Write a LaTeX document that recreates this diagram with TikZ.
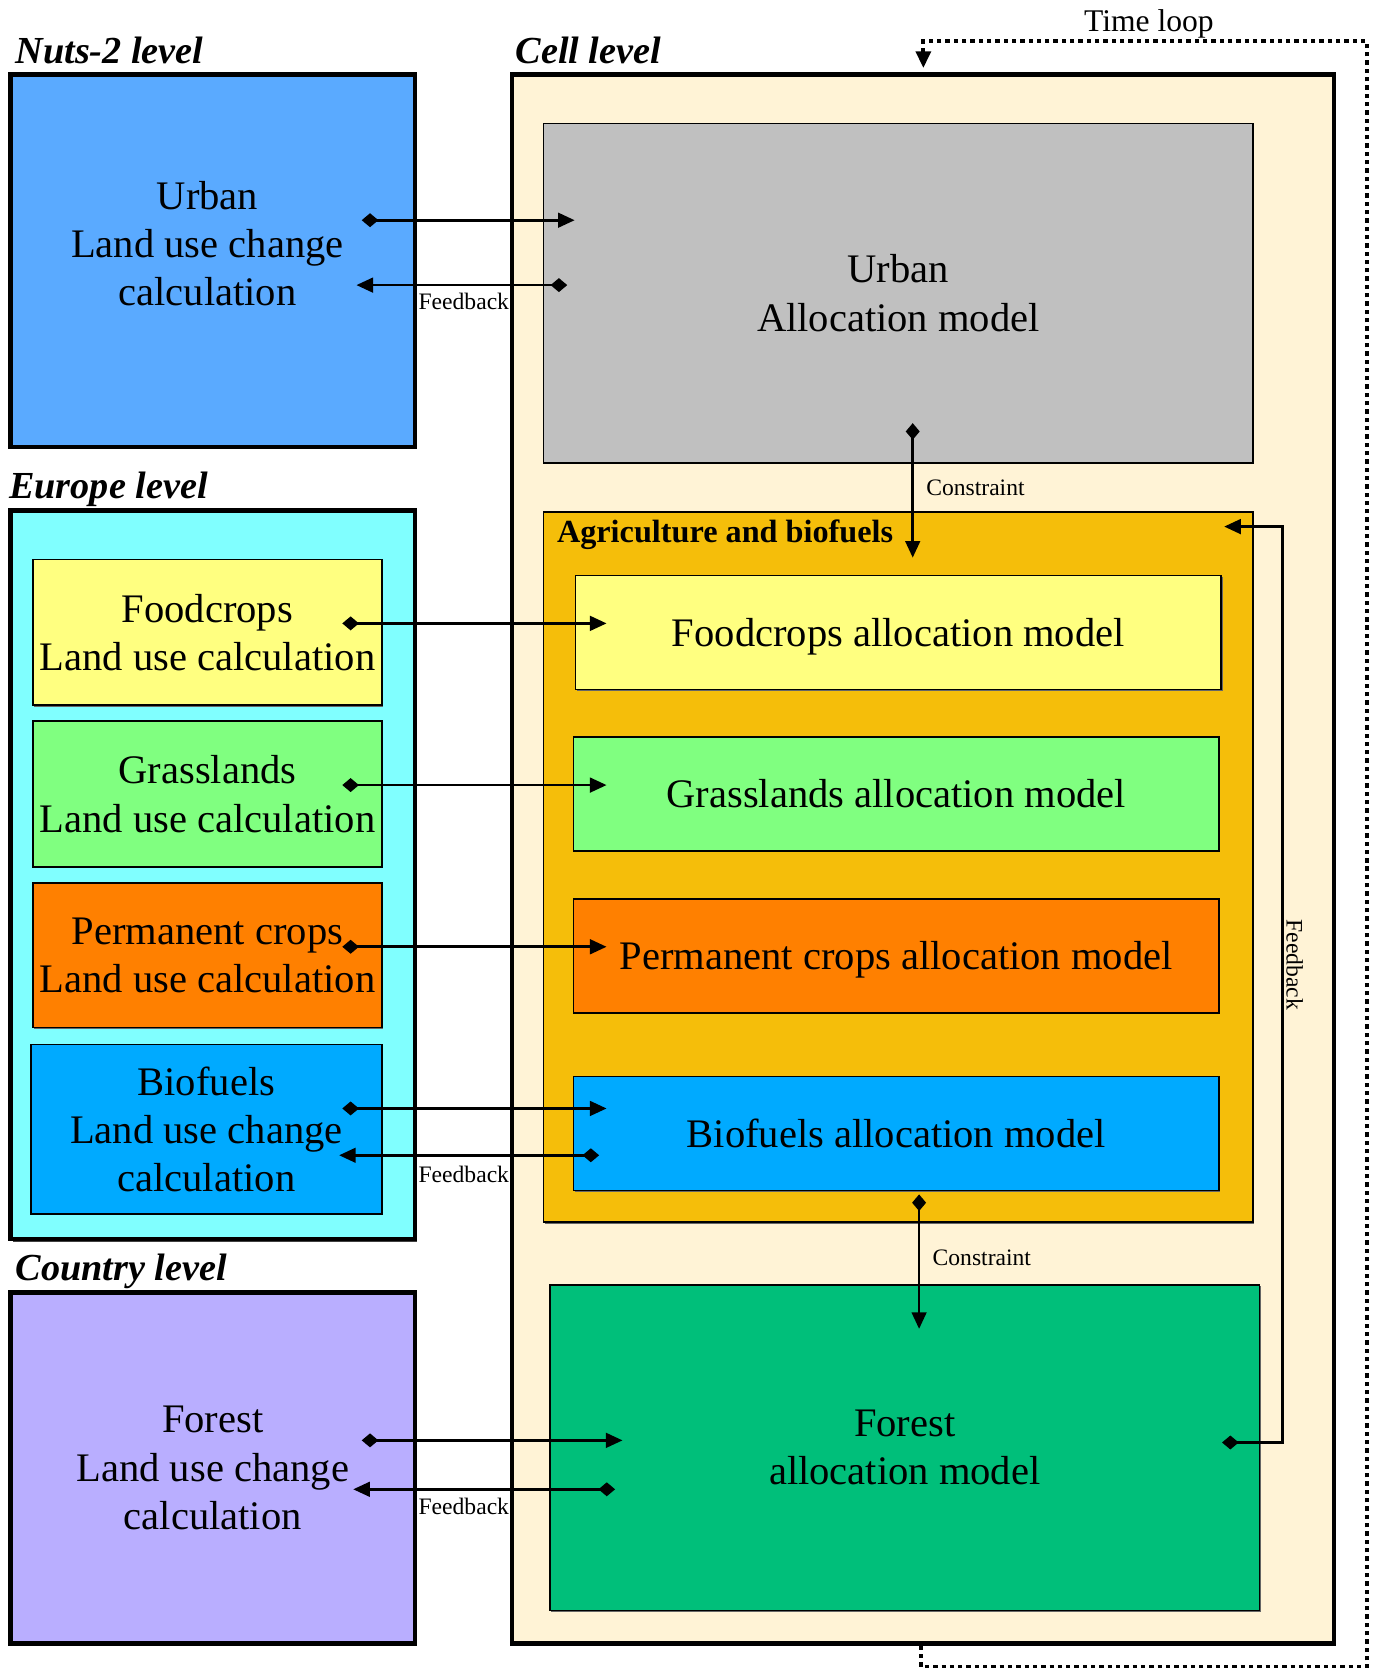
\documentclass[tikz,border=0pt]{standalone}
\usepackage{fontspec}
\setmainfont{Liberation Serif}
\usetikzlibrary{arrows.meta,calc,shadows}

\definecolor{nutsblue}{RGB}{90,170,255}
\definecolor{eurocyan}{RGB}{128,255,255}
\definecolor{countrylav}{RGB}{185,174,255}
\definecolor{cellcream}{RGB}{255,243,214}
\definecolor{urbangray}{RGB}{192,192,192}
\definecolor{agriorange}{RGB}{245,190,10}
\definecolor{foodyellow}{RGB}{255,255,128}
\definecolor{grassgreen}{RGB}{128,255,128}
\definecolor{permorange}{RGB}{255,128,0}
\definecolor{biofblue}{RGB}{0,170,255}
\definecolor{forestgreen}{RGB}{0,191,122}

\tikzset{
  wh/.style 2 args={minimum width=#1*0.32pt, minimum height=#2*0.32pt},
  lvl/.style={
    draw, line width=1.3pt, inner sep=0pt,
    drop shadow={shadow xshift=0.7pt, shadow yshift=-0.7pt, fill=black!75, opacity=1}
  },
  box/.style={
    draw, line width=0.5pt, inner sep=0pt, align=center,
    font=\fontsize{12.2}{14.5}\selectfont,
    drop shadow={shadow xshift=0.4pt, shadow yshift=-0.4pt, fill=black!60, opacity=1}
  },
  txt/.style={align=center, inner sep=0pt, font=\fontsize{12.2}{14.5}\selectfont},
  ttl/.style={anchor=base west, inner sep=0pt, font=\fontsize{11.5}{13}\selectfont\bfseries\itshape},
  lbl/.style={inner sep=1pt, font=\fontsize{7.1}{8}\selectfont},
  arr/.style={{Diamond[length=5pt, width=4.2pt]}-{Triangle[length=5pt, width=4.4pt]}, line width=0.8pt},
  tloop/.style={-{Triangle[length=5pt, width=4.4pt]}, line width=1.2pt, dash pattern=on 1.3pt off 1.2pt}
}

\begin{document}
\begin{tikzpicture}[x=0.32pt, y=-0.32pt]
  \useasboundingbox (0,0) rectangle (1293,1568);

  % --- level frames ----------------------------------------------------
  \node[lvl, fill=nutsblue, wh={380}{350}] (nuts) at (200,245) {};
  \node[lvl, fill=eurocyan, wh={380}{685}] (europe) at (200,822.5) {};
  \node[lvl, txt, fill=countrylav, wh={380}{330}] (country) at (200,1380)
    {Forest\\Land use change\\calculation};
  \node[lvl, fill=cellcream, wh={773}{1475}] (cell) at (867.5,807.5) {};

  \node[ttl] (nutsT) at (14,60) {Nuts-2 level};
  \node[ttl] (europeT) at (8,469) {Europe level};
  \node[ttl] (countryT) at (14,1204) {Country level};
  \node[ttl] (cellT) at (484,60) {Cell level};

  \node[txt] (nutsTxt) at (195,229) {Urban\\Land use change\\calculation};

  % --- europe level calculations ---------------------------------------
  \node[box, fill=foodyellow, wh={328}{137}] (foodL) at (195,594.5) {Foodcrops\\Land use calculation};
  \node[box, fill=grassgreen, wh={328}{137}] (grassL) at (195,746.5) {Grasslands\\Land use calculation};
  \node[box, fill=permorange, wh={328}{136}] (permL) at (195,898) {Permanent crops\\Land use calculation};
  \node[box, fill=biofblue, wh={330}{159}] (bioL) at (194,1061.5) {Biofuels\\Land use change\\calculation};

  % --- cell level allocation models ------------------------------------
  \node[box, fill=urbangray, wh={667}{319}] (urbanA) at (844.5,275.5) {Urban\\Allocation model};
  \node[box, fill=agriorange, wh={667}{668}] (agri) at (844.5,815) {};
  \node[anchor=base west, inner sep=0pt, font=\fontsize{9.7}{11}\selectfont\bfseries]
    (agriT) at (523,510) {Agriculture and biofuels};
  \node[box, fill=foodyellow, wh={607}{107}, text depth=0pt] (foodA) at (844.5,594.5) {Foodcrops allocation model};
  \node[box, fill=grassgreen, wh={607}{107}] (grassA) at (842.5,746.5) {Grasslands allocation model};
  \node[box, fill=permorange, wh={607}{107}, text depth=0pt] (permA) at (842.5,898.5) {Permanent crops allocation model};
  \node[box, fill=biofblue, wh={607}{107}] (bioA) at (842.5,1065.5) {Biofuels allocation model};
  \node[box, fill=forestgreen, wh={667}{306}] (forestA) at (850.5,1361) {Forest\\allocation model};

  % --- demand and feedback arrows --------------------------------------
  \draw[arr] ($(nuts.east)+(-52,-38)$) -- ($(urbanA.west)+(30,-68.5)$);
  \draw[arr] ($(urbanA.west)+(23,-7.5)$) -- ($(nuts.east)+(-57,23)$);
  \draw[arr] ($(foodL.east)+(-38,-8.5)$) -- ($(foodA.west)+(30,-8.5)$);
  \draw[arr] ($(grassL.east)+(-38,-8.5)$) -- ($(grassA.west)+(32,-8.5)$);
  \draw[arr] ($(permL.east)+(-38,-8)$) -- ($(permA.west)+(32,-8.5)$);
  \draw[arr] ($(bioL.east)+(-38,-19.5)$) -- ($(bioA.west)+(32,-23.5)$);
  \draw[arr] ($(bioA.west)+(25,20.5)$) -- ($(bioL.east)+(-41,24.5)$);
  \draw[arr] ($(country.east)+(-52,-26)$) -- ($(forestA.west)+(69,-7)$);
  \draw[arr] ($(forestA.west)+(62,39)$) -- ($(country.east)+(-60,20)$);

  \node[lbl] (fbUrban) at (436,283) {Feedback};
  \node[lbl] (fbBio) at (436,1104) {Feedback};
  \node[lbl] (fbForest) at (436,1416) {Feedback};

  % --- constraints inside the cell level -------------------------------
  \draw[arr] ($(urbanA.south)+(13.5,-38)$) -- ($(agri.north)+(13.5,44)$);
  \draw[arr] ($(bioA.south)+(21.5,3)$) -- ($(forestA.north)+(13.5,42)$);
  \draw[arr] ($(forestA.east)+(-36,-5)$) -| ($(agri.east)+(27,-320)$) -- ($(agri.east)+(-28,-320)$);

  \node[lbl] (cUrban) at (917,459) {Constraint};
  \node[lbl] (cAgri) at (923,1182) {Constraint};
  \node[lbl, rotate=-90] (fbAgri) at (1217,907) {Feedback};

  % --- time loop -------------------------------------------------------
  \draw[tloop] ($(cell.south)+(-1.5,0)$) -- ++(0,20)
    -| ($(cell.north east)+(29,-29)$) -| ($(cell.north)+(0.5,-4)$);
  \node[inner sep=0pt, font=\fontsize{9.5}{11}\selectfont] (loopT) at (1080,22) {Time loop};
\end{tikzpicture}
\end{document}
